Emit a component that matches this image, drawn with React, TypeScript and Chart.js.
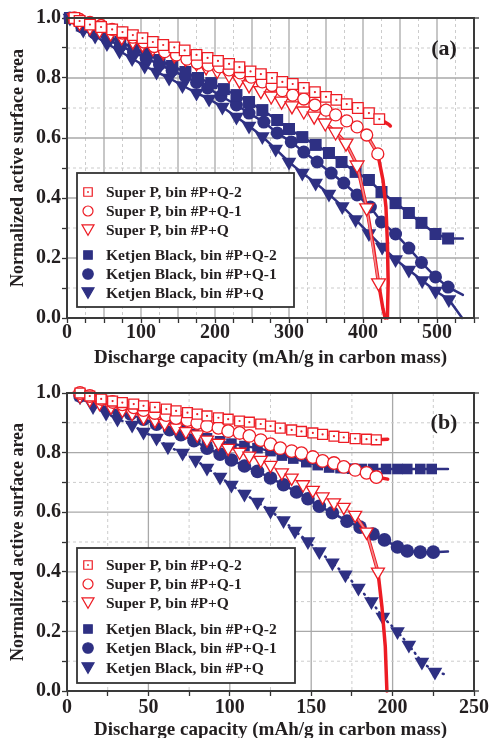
import React, { useEffect, useRef } from 'react';
import { Chart, registerables } from 'chart.js';
Chart.register(...registerables);

const FONT = "'Liberation Serif', 'Times New Roman', serif";
const RED = '#ed1c24';
const PINK = '#f3868a';
const NAVY = '#2e3083';
const INK = '#231f20';

const legendLabels = [
  'Super P, bin #P+Q-2',
  'Super P, bin #P+Q-1',
  'Super P, bin #P+Q',
  'Ketjen Black, bin #P+Q-2',
  'Ketjen Black, bin #P+Q-1',
  'Ketjen Black, bin #P+Q',
];
const xTitle = 'Discharge capacity (mAh/g in carbon mass)';
const yTitle = 'Normalized active surface area';

// ---------- Panel (a) ----------
const aSPQ2x = [10, 17, 31, 46, 61, 75, 89, 102, 116, 130, 145, 159, 175, 190, 204, 219, 233, 248, 262, 277, 291, 305, 320, 335, 350, 364, 378, 393, 408, 422];
const aSPQ2y = [1.0, 0.99, 0.978, 0.97, 0.962, 0.953, 0.943, 0.933, 0.92, 0.91, 0.902, 0.892, 0.877, 0.867, 0.857, 0.847, 0.836, 0.822, 0.813, 0.8, 0.787, 0.78, 0.767, 0.753, 0.737, 0.727, 0.713, 0.7, 0.683, 0.663];
const aSPQ2tailX = [408, 422, 430, 435, 437];
const aSPQ2tailY = [0.683, 0.663, 0.652, 0.645, 0.64];

const aSPQ1x = [10, 17, 31, 46, 61, 75, 89, 104, 118, 132, 148, 162, 176, 191, 206, 219, 234, 249, 264, 277, 291, 305, 320, 335, 350, 363, 378, 392, 405, 420];
const aSPQ1y = [1.0, 0.995, 0.985, 0.975, 0.962, 0.95, 0.936, 0.92, 0.905, 0.888, 0.877, 0.863, 0.85, 0.843, 0.837, 0.827, 0.817, 0.803, 0.787, 0.775, 0.758, 0.743, 0.73, 0.71, 0.693, 0.677, 0.657, 0.637, 0.61, 0.547];
const aSPQ1tailX = [405, 420, 427, 431, 433, 434, 433];
const aSPQ1tailY = [0.61, 0.547, 0.46, 0.37, 0.25, 0.12, 0.0];

const aSPQx = [10, 17, 31, 44, 59, 74, 89, 102, 116, 130, 145, 160, 175, 188, 203, 219, 233, 246, 262, 276, 290, 304, 320, 334, 349, 363, 377, 392, 405, 421];
const aSPQy = [1.0, 0.985, 0.97, 0.96, 0.95, 0.937, 0.923, 0.913, 0.9, 0.887, 0.877, 0.865, 0.85, 0.837, 0.825, 0.81, 0.793, 0.777, 0.758, 0.74, 0.723, 0.707, 0.69, 0.673, 0.65, 0.62, 0.583, 0.51, 0.367, 0.117];
const aSPQtailX = [349, 363, 377, 392, 405, 414, 421, 427, 430];
const aSPQtailY = [0.65, 0.62, 0.583, 0.51, 0.367, 0.237, 0.117, 0.03, 0.0];

const aKBQ2x = [4, 20, 37, 55, 72, 90, 107, 125, 142, 160, 177, 195, 212, 229, 246, 264, 284, 300, 318, 336, 354, 371, 390, 408, 425, 444, 462, 479, 498, 515, 535];
const aKBQ2y = [1.0, 0.975, 0.958, 0.94, 0.92, 0.9, 0.88, 0.86, 0.84, 0.82, 0.8, 0.783, 0.763, 0.743, 0.72, 0.693, 0.66, 0.63, 0.603, 0.577, 0.55, 0.52, 0.487, 0.46, 0.42, 0.383, 0.35, 0.317, 0.28, 0.265, 0.265];

const aKBQ1x = [4, 20, 37, 55, 72, 90, 107, 125, 142, 160, 175, 190, 208, 229, 246, 266, 284, 303, 320, 338, 357, 374, 392, 410, 425, 444, 462, 479, 498, 515, 535];
const aKBQ1y = [1.0, 0.97, 0.95, 0.928, 0.907, 0.886, 0.866, 0.845, 0.825, 0.805, 0.785, 0.767, 0.74, 0.71, 0.683, 0.653, 0.617, 0.587, 0.553, 0.52, 0.483, 0.45, 0.41, 0.37, 0.32, 0.28, 0.233, 0.185, 0.137, 0.103, 0.077];

const aKBQx = [4, 22, 38, 54, 71, 88, 105, 121, 138, 156, 175, 192, 210, 229, 246, 264, 282, 300, 318, 336, 354, 372, 390, 408, 426, 444, 462, 480, 498, 516, 534];
const aKBQy = [1.0, 0.96, 0.94, 0.915, 0.89, 0.865, 0.84, 0.82, 0.8, 0.775, 0.75, 0.73, 0.703, 0.67, 0.64, 0.605, 0.563, 0.52, 0.483, 0.45, 0.413, 0.372, 0.328, 0.282, 0.237, 0.195, 0.16, 0.125, 0.09, 0.062, 0.0];

// ---------- Panel (b) ----------
const bSPQ2x = [8, 14, 21, 28, 34, 41, 47, 54, 61, 67, 74, 80, 86, 93, 99, 106, 112, 119, 125, 131, 138, 144, 151, 157, 164, 170, 177, 184, 190];
const bSPQ2y = [1.0, 0.99, 0.98, 0.973, 0.968, 0.963, 0.957, 0.952, 0.946, 0.94, 0.934, 0.929, 0.923, 0.917, 0.912, 0.906, 0.902, 0.896, 0.889, 0.882, 0.876, 0.871, 0.866, 0.861, 0.855, 0.851, 0.847, 0.845, 0.843];
const bSPQ2tailX = [184, 190, 197];
const bSPQ2tailY = [0.845, 0.843, 0.845];

const bSPQ1x = [8, 14, 21, 28, 34, 41, 47, 54, 61, 67, 74, 80, 86, 93, 99, 106, 112, 119, 125, 131, 138, 144, 151, 157, 164, 170, 177, 184, 190];
const bSPQ1y = [1.0, 0.99, 0.98, 0.97, 0.962, 0.952, 0.943, 0.933, 0.926, 0.916, 0.909, 0.899, 0.889, 0.883, 0.872, 0.866, 0.856, 0.842, 0.828, 0.815, 0.805, 0.798, 0.785, 0.772, 0.765, 0.752, 0.742, 0.732, 0.718];
const bSPQ1tailX = [184, 190, 197];
const bSPQ1tailY = [0.732, 0.718, 0.711];

const bSPQx = [8, 14, 20, 27, 34, 40, 47, 54, 60, 67, 73, 80, 86, 93, 99, 106, 112, 119, 125, 132, 138, 145, 151, 157, 164, 170, 177, 184, 191];
const bSPQy = [0.99, 0.978, 0.966, 0.954, 0.943, 0.932, 0.918, 0.908, 0.898, 0.884, 0.871, 0.86, 0.843, 0.832, 0.815, 0.802, 0.789, 0.775, 0.758, 0.733, 0.715, 0.693, 0.674, 0.652, 0.632, 0.617, 0.59, 0.534, 0.4];
const bSPQtailX = [177, 184, 191, 193.5, 195.5, 196.5];
const bSPQtailY = [0.59, 0.534, 0.4, 0.28, 0.15, 0.0];

const bKBQ2x = [8, 16, 24, 31, 39, 47, 55, 63, 70, 78, 86, 94, 101, 109, 117, 125, 132, 139, 147, 154, 161, 168, 175, 181, 188, 196, 203, 209, 217, 224, 234];
const bKBQ2y = [0.99, 0.98, 0.968, 0.955, 0.94, 0.925, 0.91, 0.895, 0.878, 0.862, 0.848, 0.838, 0.83, 0.822, 0.815, 0.805, 0.79, 0.78, 0.768, 0.758, 0.75, 0.748, 0.746, 0.745, 0.745, 0.745, 0.745, 0.745, 0.745, 0.745, 0.745];

const bKBQ1x = [8, 16, 24, 31, 39, 47, 55, 63, 70, 78, 86, 94, 101, 109, 117, 125, 133, 141, 148, 155, 163, 172, 180, 188, 195, 203, 209, 217, 225, 234];
const bKBQ1y = [0.99, 0.975, 0.96, 0.945, 0.93, 0.912, 0.895, 0.877, 0.86, 0.84, 0.815, 0.795, 0.775, 0.755, 0.737, 0.715, 0.692, 0.668, 0.645, 0.62, 0.598, 0.57, 0.55, 0.527, 0.507, 0.483, 0.47, 0.466, 0.466, 0.468];

const bKBQx = [8, 16, 24, 31, 40, 47, 55, 62, 71, 79, 86, 94, 101, 109, 117, 125, 133, 140, 148, 155, 163, 171, 179, 187, 194, 203, 210, 218, 226, 234];
const bKBQy = [0.987, 0.955, 0.933, 0.913, 0.893, 0.869, 0.849, 0.82, 0.799, 0.775, 0.748, 0.718, 0.691, 0.661, 0.634, 0.604, 0.572, 0.537, 0.502, 0.468, 0.43, 0.39, 0.346, 0.3, 0.248, 0.2, 0.154, 0.097, 0.064, 0.054];

const zip = (xs: number[], ys: number[]) => xs.map((x, i) => ({ x, y: ys[i] }));

type Kind = 'rect' | 'circle' | 'tri';

function drawSymbol(ctx: CanvasRenderingContext2D, kind: Kind, cx: number, cy: number, s: number, filled: boolean) {
  ctx.save();
  ctx.lineWidth = 1.2;
  ctx.strokeStyle = filled ? NAVY : RED;
  ctx.fillStyle = filled ? NAVY : '#fff';
  ctx.setLineDash([]);
  ctx.beginPath();
  if (kind === 'rect') ctx.rect(cx - s / 2, cy - s / 2, s, s);
  else if (kind === 'circle') ctx.arc(cx, cy, s / 2, 0, Math.PI * 2);
  else {
    const h = s * 0.866;
    ctx.moveTo(cx - s / 2, cy - h / 2);
    ctx.lineTo(cx + s / 2, cy - h / 2);
    ctx.lineTo(cx, cy + h / 2);
    ctx.closePath();
  }
  ctx.fill();
  ctx.stroke();
  if (!filled && kind === 'rect') {
    ctx.fillStyle = RED;
    ctx.fillRect(cx - 0.8, cy - 0.8, 1.6, 1.6);
  }
  ctx.restore();
}

const decorPlugin = {
  id: 'decor',
  beforeDatasetsDraw(chart: any) {
    const { ctx, chartArea: ca, scales } = chart;
    const xs = scales.x;
    const ys = scales.y;
    ctx.save();
    for (const t of xs.ticks) {
      const px = xs.getPixelForValue(t.value);
      if (px <= ca.left + 1 || px >= ca.right - 1) continue;
      const major = Math.round(t.value) % 50 === 0;
      ctx.beginPath();
      ctx.setLineDash(major ? [] : [3, 3]);
      ctx.strokeStyle = major ? '#a9a9a9' : '#cccccc';
      ctx.lineWidth = major ? 1.3 : 1;
      ctx.moveTo(px, ca.top);
      ctx.lineTo(px, ca.bottom);
      ctx.stroke();
    }
    for (const t of ys.ticks) {
      const py = ys.getPixelForValue(t.value);
      if (py <= ca.top + 1 || py >= ca.bottom - 1) continue;
      const major = Math.round(t.value * 10) % 2 === 0;
      ctx.beginPath();
      ctx.setLineDash(major ? [] : [3, 3]);
      ctx.strokeStyle = major ? '#a9a9a9' : '#cccccc';
      ctx.lineWidth = major ? 1.3 : 1;
      ctx.moveTo(ca.left, py);
      ctx.lineTo(ca.right, py);
      ctx.stroke();
    }
    ctx.restore();
  },
  afterDatasetsDraw(chart: any, _a: any, opts: any) {
    const { ctx, chartArea: ca, scales } = chart;
    ctx.save();
    ctx.setLineDash([]);
    ctx.strokeStyle = '#3a3a3a';
    ctx.lineWidth = 2;
    ctx.strokeRect(ca.left, ca.top, ca.right - ca.left, ca.bottom - ca.top);
    ctx.lineWidth = 1.3;
    for (const t of scales.y.ticks) {
      const py = scales.y.getPixelForValue(t.value);
      ctx.beginPath();
      ctx.moveTo(ca.right, py);
      ctx.lineTo(ca.right + 5, py);
      ctx.stroke();
    }
    const lg = opts.legend;
    const [bx, by, bw, bh] = lg.box;
    ctx.fillStyle = '#fff';
    ctx.fillRect(bx, by, bw, bh);
    ctx.strokeStyle = '#333';
    ctx.lineWidth = 1.8;
    ctx.strokeRect(bx, by, bw, bh);
    const kinds: Kind[] = ['rect', 'circle', 'tri', 'rect', 'circle', 'tri'];
    const sizes = [8.5, 10, 12, 8.5, 10.5, 12];
    ctx.font = `bold 15.5px ${FONT}`;
    ctx.textAlign = 'left';
    ctx.textBaseline = 'middle';
    legendLabels.forEach((lab, i) => {
      const y = lg.rows[i];
      drawSymbol(ctx, kinds[i], lg.symX, y, sizes[i], i >= 3);
      ctx.fillStyle = INK;
      ctx.fillText(lab, lg.textX, y + 1);
    });
    ctx.font = `bold 22px ${FONT}`;
    ctx.textAlign = 'center';
    ctx.textBaseline = 'middle';
    ctx.fillStyle = INK;
    ctx.fillText(opts.tag.text, opts.tag.x, opts.tag.y);
    ctx.restore();
  },
};

interface PanelSpec {
  height: number;
  top: number;
  bottom: number;
  xMax: number;
  labelEvery: number;
  xPad: number;
  xTitlePad: number;
  tag: { text: string; x: number; y: number };
  legend: { box: [number, number, number, number]; rows: number[]; symX: number; textX: number };
  sp: { data: { x: number; y: number }[]; tail: { x: number; y: number }[]; kind: Kind; r: number }[];
  kb: { data: { x: number; y: number }[]; kind: Kind; r: number; dash?: number[] }[];
}

const styleOf = (k: Kind) => (k === 'tri' ? 'triangle' : k);

function buildConfig(p: PanelSpec): any {
  const datasets: any[] = [];
  datasets.push({
    label: '_dots',
    data: p.sp[0].data,
    showLine: false,
    pointStyle: 'circle',
    pointRadius: 1.1,
    pointBackgroundColor: RED,
    pointBorderWidth: 0,
    order: -1,
    clip: false,
  });
  p.sp.forEach((s, i) => {
    datasets.push({
      label: legendLabels[i],
      data: s.data,
      showLine: true,
      borderColor: PINK,
      borderWidth: 1.6,
      pointStyle: styleOf(s.kind),
      pointRotation: s.kind === 'tri' ? 180 : 0,
      pointRadius: s.r,
      pointBackgroundColor: '#fff',
      pointBorderColor: RED,
      pointBorderWidth: 1.3,
      order: 0,
      clip: false,
    });
    datasets.push({
      label: '_tail' + i,
      data: s.tail,
      showLine: true,
      borderColor: RED,
      borderWidth: 3.5,
      borderJoinStyle: 'round',
      borderCapStyle: 'round',
      pointRadius: 0,
      order: 1,
      clip: false,
      tension: 0,
    });
  });
  p.kb.forEach((s, i) => {
    const n = s.data.length;
    datasets.push({
      label: legendLabels[3 + i],
      data: s.data,
      showLine: true,
      borderColor: NAVY,
      borderWidth: 2.5,
      borderDash: s.dash || [],
      borderCapStyle: 'round',
      pointStyle: styleOf(s.kind),
      pointRotation: s.kind === 'tri' ? 180 : 0,
      pointRadius: (c: any) => (c.dataIndex === n - 1 ? 0 : s.r),
      pointBackgroundColor: NAVY,
      pointBorderColor: NAVY,
      pointBorderWidth: 0,
      order: 2,
      clip: false,
    });
  });
  const tickFont = { size: 20, weight: 'bold', family: FONT, lineHeight: 1 };
  return {
    type: 'scatter',
    data: { datasets },
    plugins: [decorPlugin],
    options: {
      responsive: false,
      animation: false,
      events: [],
      devicePixelRatio: 1,
      layout: { padding: { left: 0, right: 18, top: p.top, bottom: 0 } },
      plugins: {
        legend: { display: false },
        tooltip: { enabled: false },
        decor: { legend: p.legend, tag: p.tag },
      },
      scales: {
        x: {
          type: 'linear',
          min: 0,
          max: p.xMax,
          afterFit: (s: any) => {
            s.height = p.height - p.bottom;
          },
          ticks: {
            stepSize: 25,
            autoSkip: false,
            maxRotation: 0,
            padding: p.xPad,
            font: tickFont,
            color: INK,
            callback: (v: number) => (Math.round(v) % p.labelEvery === 0 ? String(Math.round(v)) : ''),
          },
          grid: { drawOnChartArea: false, drawTicks: true, tickLength: 5, tickColor: '#333', tickWidth: 1.3 },
          border: { display: false },
          title: {
            display: true,
            text: xTitle,
            color: INK,
            font: { size: 19, weight: 'bold', family: FONT, lineHeight: 1 },
            padding: { top: 0, bottom: p.xTitlePad },
          },
        },
        y: {
          type: 'linear',
          min: 0,
          max: 1,
          afterFit: (s: any) => {
            s.width = 67;
          },
          ticks: {
            stepSize: 0.1,
            autoSkip: false,
            padding: 1,
            font: tickFont,
            color: INK,
            callback: (v: number) => (Math.round(v * 10) % 2 === 0 ? (Math.round(v * 10) / 10).toFixed(1) : ''),
          },
          grid: { drawOnChartArea: false, drawTicks: true, tickLength: 5, tickColor: '#333', tickWidth: 1.3 },
          border: { display: false },
          title: {
            display: true,
            text: yTitle,
            color: INK,
            font: { size: 18, weight: 'bold', family: FONT, lineHeight: 1 },
            padding: { top: 9, bottom: 0 },
          },
        },
      },
    },
  };
}

const panelA: PanelSpec = {
  height: 369,
  top: 18,
  bottom: 318,
  xMax: 550,
  labelEvery: 100,
  xPad: 0,
  xTitlePad: 1.5,
  tag: { text: '(a)', x: 444, y: 49 },
  legend: { box: [77, 173, 217, 134], rows: [192, 211, 230, 255, 274, 293], symX: 88, textX: 106 },
  sp: [
    { data: zip(aSPQ2x, aSPQ2y), tail: zip(aSPQ2tailX, aSPQ2tailY), kind: 'rect', r: 7.5 },
    { data: zip(aSPQ1x, aSPQ1y), tail: zip(aSPQ1tailX, aSPQ1tailY), kind: 'circle', r: 6 },
    { data: zip(aSPQx, aSPQy), tail: zip(aSPQtailX, aSPQtailY), kind: 'tri', r: 8 },
  ],
  kb: [
    { data: zip(aKBQ2x, aKBQ2y), kind: 'rect', r: 8.5 },
    { data: zip(aKBQ1x, aKBQ1y), kind: 'circle', r: 6.5 },
    { data: zip(aKBQx, aKBQy), kind: 'tri', r: 8.5 },
  ],
};

const panelB: PanelSpec = {
  height: 385,
  top: 24,
  bottom: 322,
  xMax: 250,
  labelEvery: 50,
  xPad: 2,
  xTitlePad: 14.5,
  tag: { text: '(b)', x: 444, y: 54 },
  legend: { box: [77, 179, 218, 135], rows: [196, 215, 234, 260, 279, 299], symX: 88, textX: 106 },
  sp: [
    { data: zip(bSPQ2x, bSPQ2y), tail: zip(bSPQ2tailX, bSPQ2tailY), kind: 'rect', r: 7 },
    { data: zip(bSPQ1x, bSPQ1y), tail: zip(bSPQ1tailX, bSPQ1tailY), kind: 'circle', r: 6.3 },
    { data: zip(bSPQx, bSPQy), tail: zip(bSPQtailX, bSPQtailY), kind: 'tri', r: 7.5 },
  ],
  kb: [
    { data: zip(bKBQ2x, bKBQ2y), kind: 'rect', r: 7.5 },
    { data: zip(bKBQ1x, bKBQ1y), kind: 'circle', r: 6.8 },
    { data: zip(bKBQx, bKBQy), kind: 'tri', r: 8.5, dash: [1, 5] },
  ],
};

function Panel({ spec, top }: { spec: PanelSpec; top: number }) {
  const ref = useRef<HTMLCanvasElement>(null);
  useEffect(() => {
    const chart = new Chart(ref.current as HTMLCanvasElement, buildConfig(spec));
    return () => chart.destroy();
  }, [spec]);
  return (
    <canvas
      ref={ref}
      width={492}
      height={spec.height}
      style={{ position: 'absolute', left: 0, top, width: 492, height: spec.height, display: 'block' }}
    />
  );
}

export default function App() {
  return (
    <div style={{ position: 'fixed', left: 0, top: 0, width: 492, height: 738, overflow: 'hidden', background: '#fff' }}>
      <Panel spec={panelA} top={0} />
      <Panel spec={panelB} top={369} />
    </div>
  );
}
